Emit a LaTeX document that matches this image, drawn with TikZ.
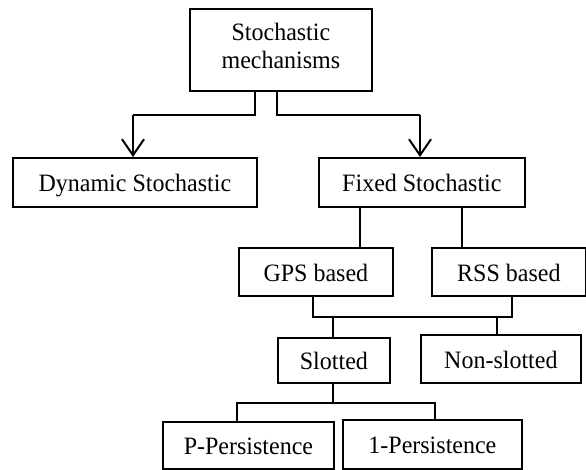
\documentclass[tikz,border=0pt]{standalone}
\usepackage{fontspec}
\setmainfont{Liberation Serif}[FakeStretch=0.96]
\usetikzlibrary{arrows.meta}
\begin{document}
\begin{tikzpicture}[x=1pt,y=-1pt,
  box/.style={draw,line width=1.8pt,anchor=north west,inner sep=0pt,align=center,
    font=\fontsize{25}{28}\selectfont,text height=19pt,text depth=0pt},
  topbox/.style={draw,line width=1.8pt,anchor=north west,inner sep=0pt,align=center,
    font=\fontsize{25}{28}\selectfont,text depth=7.4pt},
  conn/.style={line width=1.4pt},
  arr/.style={line width=2pt,-{Straight Barb[length=16pt,width=22pt,line width=2pt]}}]
\useasboundingbox (0,0) rectangle (586,470);
% boxes
\node[topbox,minimum width=182pt,minimum height=82pt] (top) at (189,8) {Stochastic\\mechanisms};
\node[box,minimum width=244pt,minimum height=49pt] (dyn) at (12,157) {Dynamic Stochastic};
\node[box,minimum width=206pt,minimum height=49pt] (fix) at (318,157) {Fixed Stochastic};
\node[box,minimum width=154pt,minimum height=48pt] (gps) at (238,247) {GPS based};
\node[box,minimum width=154pt,minimum height=48pt] (rss) at (431,247) {RSS based};
\node[box,minimum width=112pt,minimum height=45pt] (slot) at (277,337) {Slotted};
\node[box,minimum width=160pt,minimum height=48pt] (nons) at (420,334) {Non-slotted};
\node[box,minimum width=171pt,minimum height=47pt] (pp) at (162,421) {P-Persistence};
\node[box,minimum width=179pt,minimum height=49pt] (op) at (342,419) {1-Persistence};
% junction coordinates
\coordinate (a1) at (255,115);
\coordinate (a2) at (277,115);
% top -> dyn / fix
\draw[conn] (top.south -| a1) -- (a1) -- (a1 -| 133,0);
\draw[arr] (a1 -| 133,0) -- (dyn.north -| 133,0);
\draw[conn] (top.south -| a2) -- (a2) -- (a2 -| 420,0);
\draw[arr] (a2 -| 420,0) -- (fix.north -| 420,0);
% fix -> gps / rss
\draw[conn] (fix.south -| 360,0) -- (gps.north -| 360,0);
\draw[conn] (fix.south -| 462,0) -- (rss.north -| 462,0);
% gps, rss -> bus -> slotted, non-slotted
\draw[conn] (gps.south -| 313,0) -- (313,317) -- (512,317) -- (rss.south -| 512,0);
\draw[conn] (333,317) -- (slot.north -| 333,0);
\draw[conn] (497,317) -- (nons.north -| 497,0);
% slotted -> persistence
\draw[conn] (slot.south -| 333,0) -- (333,403);
\draw[conn] (pp.north -| 237,0) -- (237,403) -- (435,403) -- (op.north -| 435,0);
\end{tikzpicture}
\end{document}
